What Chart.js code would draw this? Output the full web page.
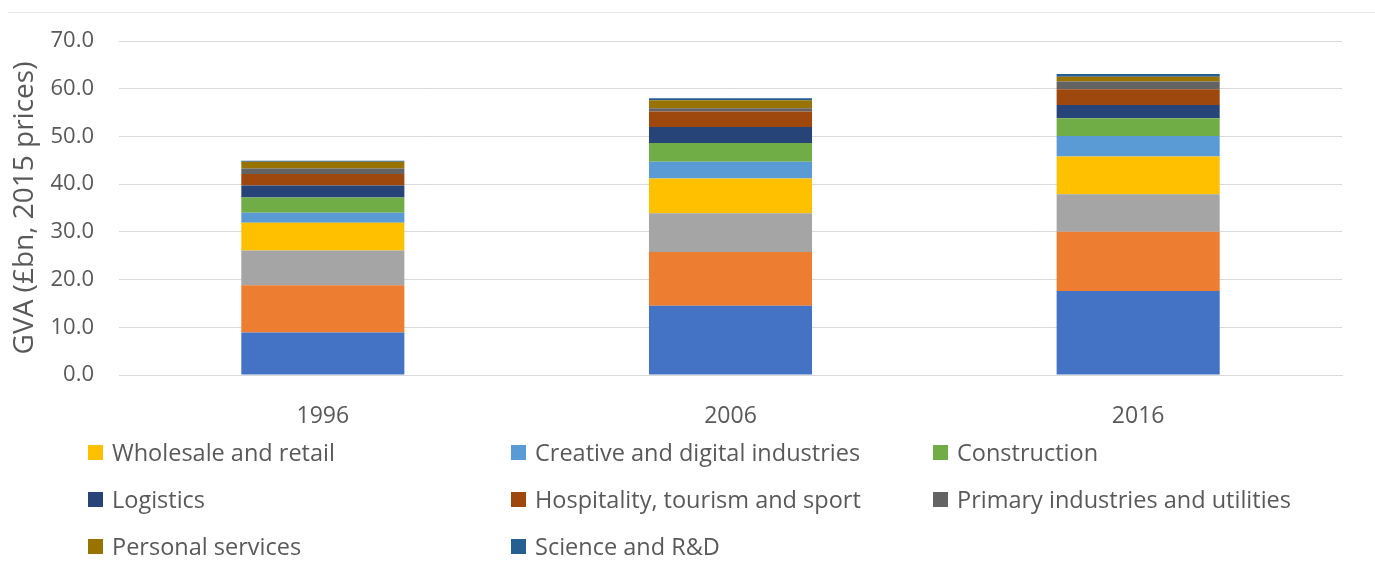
<!DOCTYPE html>
<html lang="en">
<head>
    <meta charset="UTF-8">
    <title>GVA by sector</title>
    <script src="https://cdn.jsdelivr.net/npm/chart.js"></script>
    <style>
        body {
            margin: 0;
            padding: 0;
            background-color: #fff;
            font-family: "Open Sans", sans-serif;
        }

        #wrap {
            position: relative;
            width: 1375px;
            height: 576px;
        }

        #frameLine {
            position: absolute;
            left: 9px;
            top: 12px;
            width: 1366px;
            height: 0;
            border-top: 1px solid #e6e6e6;
        }

        #chartBox {
            position: absolute;
            left: 0;
            top: 0;
            width: 1375px;
            height: 440px;
        }

        #legend {
            position: absolute;
            left: 88px;
            top: 437px;
            display: grid;
            grid-template-columns: 423px 422px 400px;
            row-gap: 17px;
            color: #595959;
            font-size: 23.5px;
        }

        .item {
            display: flex;
            align-items: center;
            height: 30px;
            white-space: nowrap;
        }

        .swatch {
            width: 15px;
            height: 15px;
            margin-right: 9px;
        }
    </style>
</head>
<body>
<div id="wrap">
    <div id="frameLine"></div>
    <div id="chartBox"><canvas id="gvaChart"></canvas></div>
    <div id="legend"></div>
</div>

<script>
    const years = ['1996', '2006', '2016'];

    // sectors, bottom of the stack first
    const sectors = [
        'Financial and professional services',
        'Public services',
        'Manufacturing',
        'Wholesale and retail',
        'Creative and digital industries',
        'Construction',
        'Logistics',
        'Hospitality, tourism and sport',
        'Primary industries and utilities',
        'Personal services',
        'Science and R&D'
    ];

    const colours = [
        '#4472C4', '#ED7D31', '#A5A5A5', '#FFC000', '#5B9BD5', '#70AD47',
        '#264478', '#9E480E', '#636363', '#997300', '#255E91'
    ];

    // values per sector for 1996, 2006, 2016 (£bn)
    const financial = [8.9, 14.5, 17.6];
    const publicServices = [9.9, 11.3, 12.4];
    const manufacturing = [7.3, 8.1, 7.9];
    const wholesale = [5.8, 7.3, 7.9];
    const creative = [2.1, 3.5, 4.3];
    const construction = [3.2, 3.9, 3.7];
    const logistics = [2.5, 3.4, 2.8];
    const hospitality = [2.4, 3.2, 3.3];
    const primary = [1.2, 0.7, 1.6];
    const personal = [1.4, 1.7, 1.0];
    const science = [0.2, 0.4, 0.6];

    const series = [financial, publicServices, manufacturing, wholesale, creative,
        construction, logistics, hospitality, primary, personal, science];

    const yTicks = [0, 10, 20, 30, 40, 50, 60, 70];

    // legend only lists the sectors from Wholesale and retail on
    const legendFrom = 3;

    const legendBox = document.getElementById('legend');
    for (let i = legendFrom; i < sectors.length; i++) {
        const item = document.createElement('div');
        item.className = 'item';
        const sw = document.createElement('span');
        sw.className = 'swatch';
        sw.style.backgroundColor = colours[i];
        const label = document.createElement('span');
        label.textContent = sectors[i];
        item.appendChild(sw);
        item.appendChild(label);
        legendBox.appendChild(item);
    }

    const ctx = document.getElementById('gvaChart').getContext('2d');
    new Chart(ctx, {
        type: 'bar',
        data: {
            labels: years,
            datasets: series.map((vals, i) => ({
                label: sectors[i],
                data: vals,
                backgroundColor: colours[i],
                borderWidth: 0,
                categoryPercentage: 1.0,
                barPercentage: 0.4
            }))
        },
        options: {
            responsive: true,
            maintainAspectRatio: false,
            animation: false,
            layout: {
                padding: { top: 41, right: 33, left: 0, bottom: 0 }
            },
            plugins: {
                legend: { display: false },
                tooltip: { enabled: false }
            },
            scales: {
                x: {
                    stacked: true,
                    grid: { display: false },
                    border: { color: '#d9d9d9', width: 1 },
                    ticks: {
                        color: '#595959',
                        padding: 20,
                        font: { family: 'Open Sans', size: 23 }
                    },
                    afterFit: (scale) => { scale.height = 65; }
                },
                y: {
                    stacked: true,
                    min: 0,
                    max: 70,
                    afterBuildTicks: (scale) => {
                        scale.ticks = yTicks.map(v => ({ value: v }));
                    },
                    grid: {
                        color: '#d9d9d9',
                        drawTicks: false
                    },
                    border: { display: false },
                    ticks: {
                        color: '#595959',
                        padding: 25,
                        font: { family: 'Open Sans', size: 22 },
                        callback: (v) => v.toFixed(1)
                    },
                    title: {
                        display: true,
                        text: 'GVA (£bn, 2015 prices)',
                        color: '#595959',
                        font: { family: 'Open Sans', size: 28 },
                        padding: { top: 8, bottom: 0 }
                    },
                    afterFit: (scale) => { scale.width = 119; }
                }
            }
        }
    });
</script>
</body>
</html>
